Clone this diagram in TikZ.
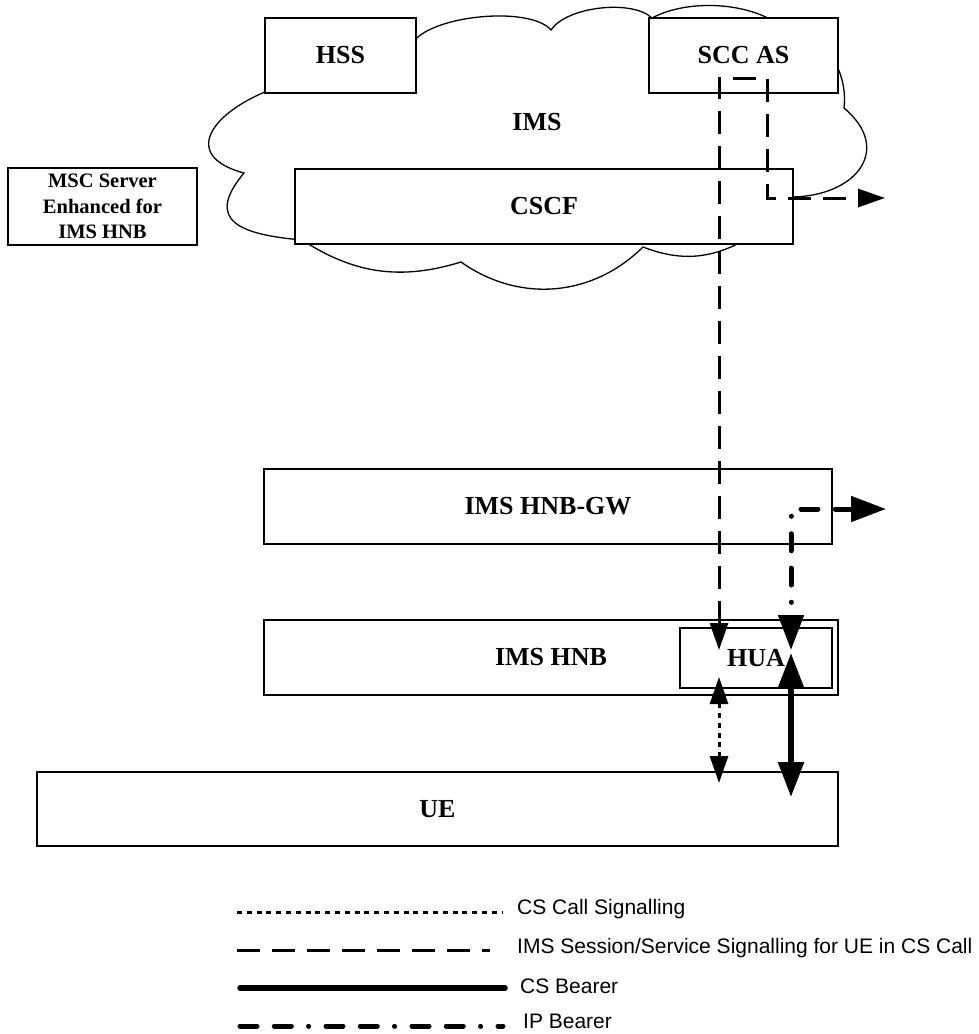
\documentclass[tikz,border=0pt]{standalone}
\usepackage{fontspec}
\setmainfont{Liberation Serif}
\newfontfamily\legendfont{Liberation Sans}
\usetikzlibrary{positioning,arrows.meta}

\tikzset{
    box/.style={draw, fill=white, line width=1.3pt, inner sep=0pt, font=\bfseries\fontsize{26}{30}\selectfont},
    sigtip/.tip={Triangle[length=27pt,width=18pt]},
    bigtip/.tip={Triangle[length=35pt,width=25pt]},
    imssig/.style={line width=3pt, dash pattern=on 23pt off 12pt},
    cssig/.style={line width=3pt, dash pattern=on 5pt off 4.8pt},
    csbearer/.style={line width=5.5pt, line cap=round},
    ipbearer/.style={line width=5pt, line cap=round, dash pattern=on 17pt off 17.3pt on 17pt off 17.2pt on 0.1pt off 17.4pt},
    legtext/.style={anchor=west, inner sep=0pt, font=\legendfont\fontsize{21}{25}\selectfont}
}

\begin{document}
\begin{tikzpicture}[x=1pt, y=-1pt]
    \useasboundingbox (0,0) rectangle (979,1034);

    % IMS cloud
    \draw[line width=1.3pt] (275,88) -- (412,44)
        to[bend left=55, looseness=0.6] (551,30)
        to[bend left=50, looseness=0.7] (652,18)
        to[bend left=30, looseness=0.8] (775,22)
        to[bend left=45] (844,108)
        to[out=-40, in=0, looseness=1.6] (790,197)
        -- (745,240)
        to[bend left=25] (643,247)
        to[bend left=40] (461,262)
        to[bend left=25] (302,240)
        to[out=175, in=230, looseness=1.8] (244,173)
        to[out=165, in=200, looseness=1.9] (275,88) -- cycle;

    \node (hss) [box, minimum width=151pt, minimum height=75pt] at (340.5,55.5) {HSS};
    \node (sccas) [box, minimum width=189pt, minimum height=75pt] at (743.5,55.5) {SCC AS};
    \node (ims) [font=\bfseries\fontsize{26}{30}\selectfont] at (537,122) {IMS};
    \node (cscf) [box, minimum width=498pt, minimum height=75pt] at (544,206.5) {CSCF};
    \node (msc) [box, font=\bfseries\fontsize{20.5}{25.5}\selectfont, align=center, minimum width=189pt, minimum height=77pt] at (102.5,206.5) {MSC Server\\Enhanced for\\IMS HNB};
    \node (hnbgw) [box, minimum width=568pt, minimum height=75pt] at (548,506.5) {IMS HNB-GW};
    \node (hnb) [box, minimum width=574pt, minimum height=75pt] at (551,657.5) {IMS HNB};
    \node (hua) [box, minimum width=152pt, minimum height=60pt] at (756,658) {HUA};
    \node (ue) [box, minimum width=801pt, minimum height=74pt] at (437.5,809) {UE};

    \coordinate (sigHua) at (719,650);
    \coordinate (sigTop) at (767,78);
    \coordinate (sigOut) at (885,198);
    \coordinate (ipHua) at (791,650);
    \coordinate (ipOut) at (886,509);
    \coordinate (csHua) at (719,677);
    \coordinate (csUe) at (719,783);
    \coordinate (bearerHua) at (791,653);
    \coordinate (bearerUe) at (791,797);

    \draw [imssig, sigtip-sigtip] (sigHua) |- (sigTop) |- (sigOut);
    \draw [ipbearer, bigtip-bigtip] (ipOut) -| (ipHua);
    \draw [cssig, sigtip-sigtip] (csHua) -- (csUe);
    \draw [csbearer, bigtip-bigtip] (bearerHua) -- (bearerUe);

    % legend
    \coordinate (legcsA) at (237,912);
    \coordinate (legcsB) at (502,912);
    \coordinate (legimsA) at (237,950);
    \coordinate (legimsB) at (490,950);
    \coordinate (legbearerA) at (240,988);
    \coordinate (legbearerB) at (505,988);
    \coordinate (legipA) at (240,1026);
    \coordinate (legipB) at (503,1026);

    \node (legcs) [legtext] at (517,909) {CS Call Signalling};
    \node (legims) [legtext] at (517,948) {IMS Session/Service Signalling for UE in CS Call};
    \node (legbearer) [legtext] at (520,986) {CS Bearer};
    \node (legip) [legtext] at (523,1021) {IP Bearer};

    \draw [cssig] (legcsA) -- (legcsB);
    \draw [imssig] (legimsA) -- (legimsB);
    \draw [csbearer] (legbearerA) -- (legbearerB);
    \draw [ipbearer] (legipA) -- (legipB);
\end{tikzpicture}
\end{document}
